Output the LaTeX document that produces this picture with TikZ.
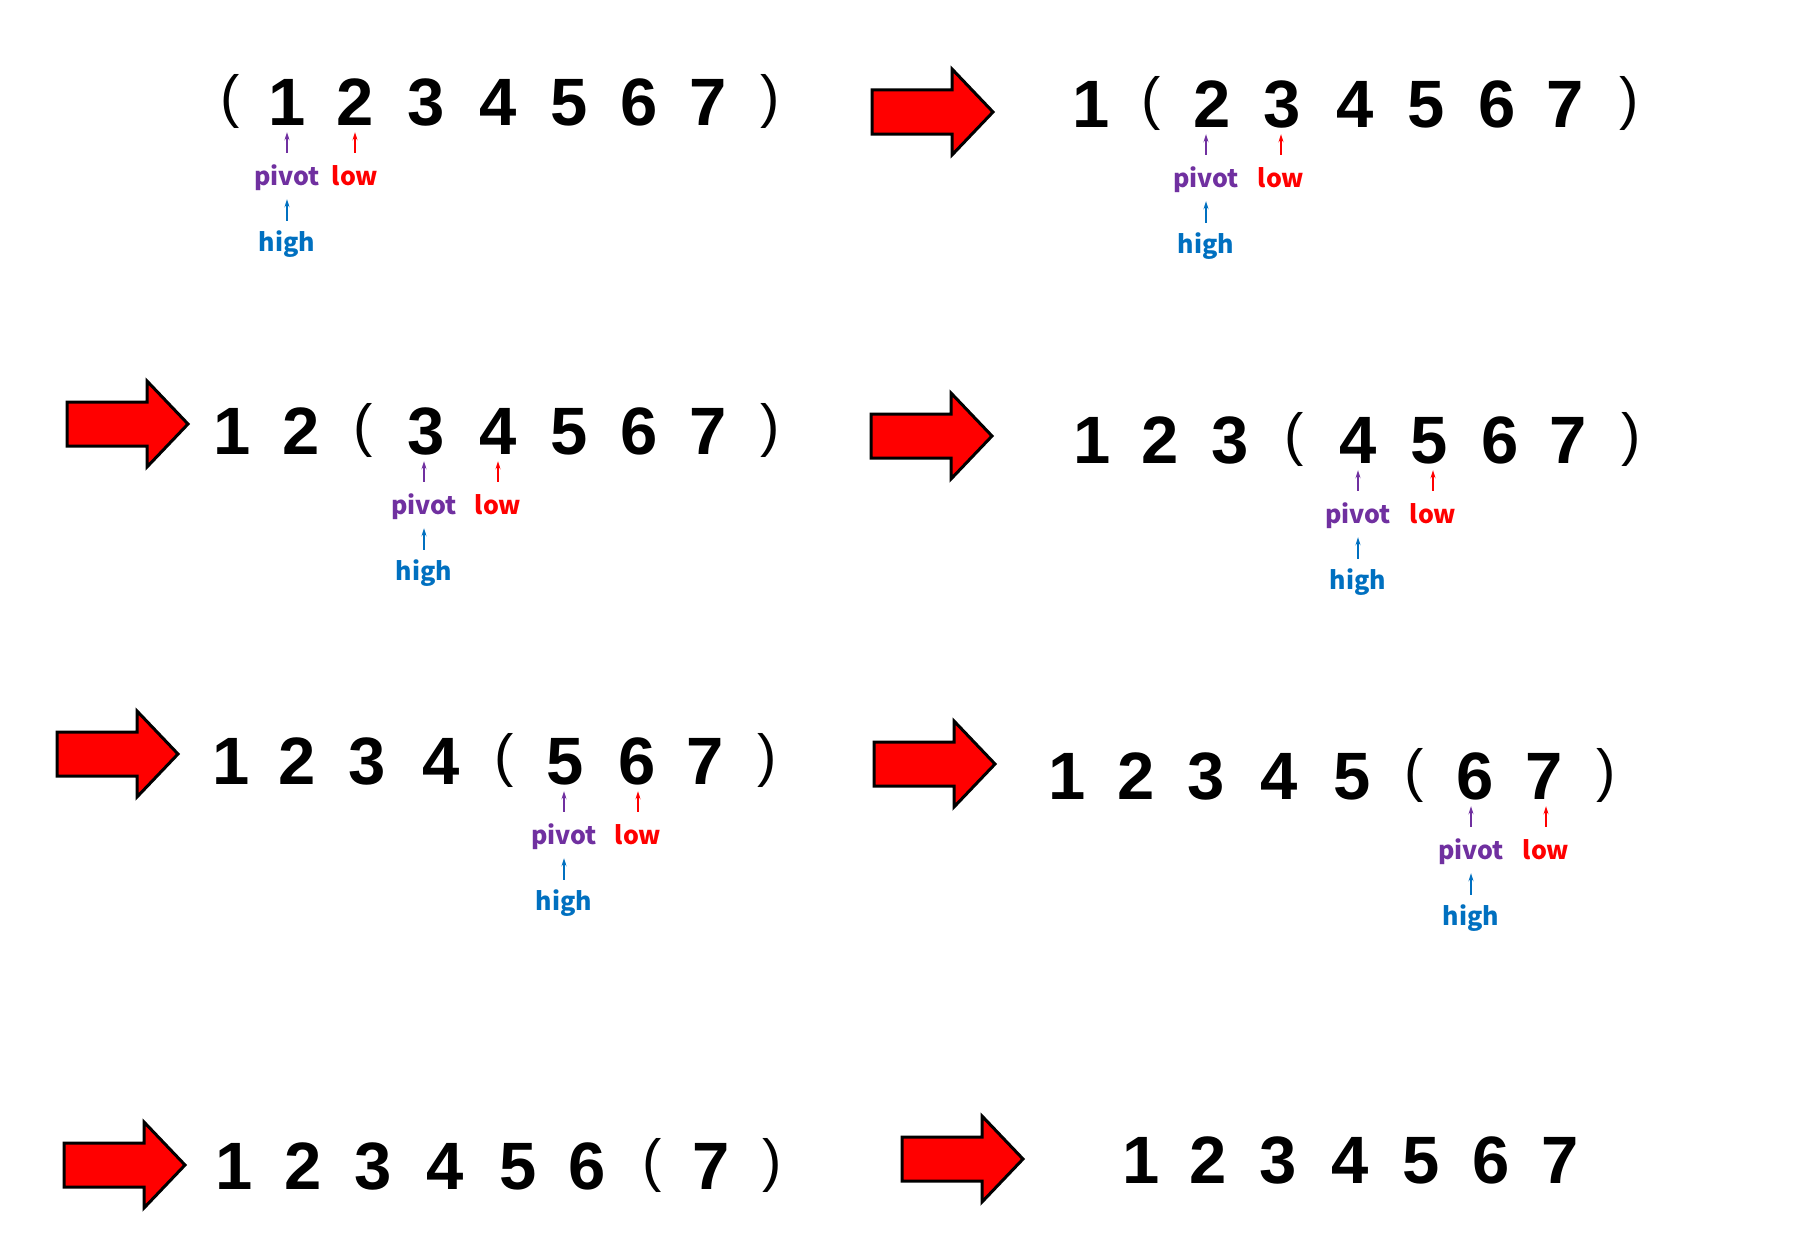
\documentclass[tikz,border=0pt]{standalone}
\usepackage{fontspec}
\newfontfamily\digf{Liberation Sans}
\newfontfamily\labf{Noto Sans CJK JP}
\usetikzlibrary{arrows.meta}
\definecolor{pvcol}{HTML}{7030A0}
\definecolor{locol}{HTML}{FF0000}
\definecolor{hicol}{HTML}{0070C0}
\tikzset{
  dig/.style={inner sep=0pt, anchor=base, text height=48pt, text depth=0pt,
    font=\digf\bfseries\fontsize{67}{67}\selectfont},
  parn/.style={inner sep=0pt, anchor=center, font=\digf\fontsize{58}{58}\selectfont},
  lbl/.style={inner sep=0pt, anchor=base, text height=17pt, text depth=5pt,
    font=\labf\bfseries\fontsize{25}{25}\selectfont},
  ptr/.style={line width=1.3pt, -{Stealth[length=8pt,width=5pt]}},
  bigstyle/.style={fill=red, draw=black, line width=3pt, line join=miter},
  barrow/.pic={\path[bigstyle] (0,-22) -- (80,-22) -- (80,-43) -- (121,0) -- (80,43) -- (80,22) -- (0,22) -- cycle;}
}
\newcommand\mydigs[3]{\foreach \c/\x in {#3}{\node[dig] (#1-\c) at (\x,#2) {\c};}}
\newcommand\mypars[4]{\node[parn] (#1-lp) at (#2,#4-24) {(};\node[parn] (#1-rp) at (#3,#4-24) {)};}
\newcommand\ptrmarks[6]{%
  \node[lbl,text=pvcol] (#1-piv) at (#5,#4+60) {pivot};
  \node[lbl,text=locol] (#1-low) at (#6,#4+60) {low};
  \node[lbl,text=hicol] (#1-high) at (#5,#4+126) {high};
  \draw[ptr,pvcol,shorten <=15pt,shorten >=7pt] (#1-piv.north) -- (#1-piv.north |- #1-#2.south);
  \draw[ptr,locol,shorten <=15pt,shorten >=7pt] (#1-low.north) -- (#1-low.north |- #1-#3.south);
  \draw[ptr,hicol,shorten <=13pt,shorten >=9pt] (#1-high.north) -- (#1-piv.south);
}
\begin{document}
\begin{tikzpicture}[x=1pt,y=-1pt]
\useasboundingbox[fill=white] (0,0) rectangle (1800,1239);
% big arrows
\pic at (872,112) {barrow};
\pic at (67,424) {barrow};
\pic at (871,436) {barrow};
\pic at (57,754) {barrow};
\pic at (874,764) {barrow};
\pic at (64,1165) {barrow};
\pic at (902,1159) {barrow};
% row 1 left
\mydigs{r1a}{125}{1/287,2/355,3/426,4/498,5/569,6/639,7/708}
\mypars{r1a}{230}{770}{125}
\ptrmarks{r1a}{1}{2}{125}{287}{355}
% row 1 right
\mydigs{r1b}{127}{1/1091,2/1212,3/1282,4/1355,5/1426,6/1497,7/1565}
\mypars{r1b}{1151}{1629}{127}
\ptrmarks{r1b}{2}{3}{127}{1206}{1281}
% row 2 left
\mydigs{r2a}{454}{1/232,2/301,3/426,4/498,5/569,6/639,7/708}
\mypars{r2a}{363}{770}{454}
\ptrmarks{r2a}{3}{4}{454}{424}{498}
% row 2 right
\mydigs{r2b}{463}{1/1092,2/1160,3/1230,4/1358,5/1429,6/1500,7/1568}
\mypars{r2b}{1294}{1631}{463}
\ptrmarks{r2b}{4}{5}{463}{1358}{1433}
% row 3 left
\mydigs{r3a}{784}{1/231,2/297,3/367,4/441,5/565,6/637,7/705}
\mypars{r3a}{504}{767}{784}
\ptrmarks{r3a}{5}{6}{784}{564}{638}
% row 3 right
\mydigs{r3b}{799}{1/1067,2/1136,3/1206,4/1279,5/1352,6/1475,7/1544}
\mypars{r3b}{1414}{1606}{799}
\ptrmarks{r3b}{6}{7}{799}{1471}{1546}
% row 4 left
\mydigs{r4a}{1189}{1/234,2/303,3/373,4/445,5/518,6/587,7/711}
\mypars{r4a}{652}{772}{1189}
% row 4 right
\mydigs{r4b}{1183}{1/1141,2/1208,3/1278,4/1350,5/1421,6/1491,7/1560}
\end{tikzpicture}
\end{document}
